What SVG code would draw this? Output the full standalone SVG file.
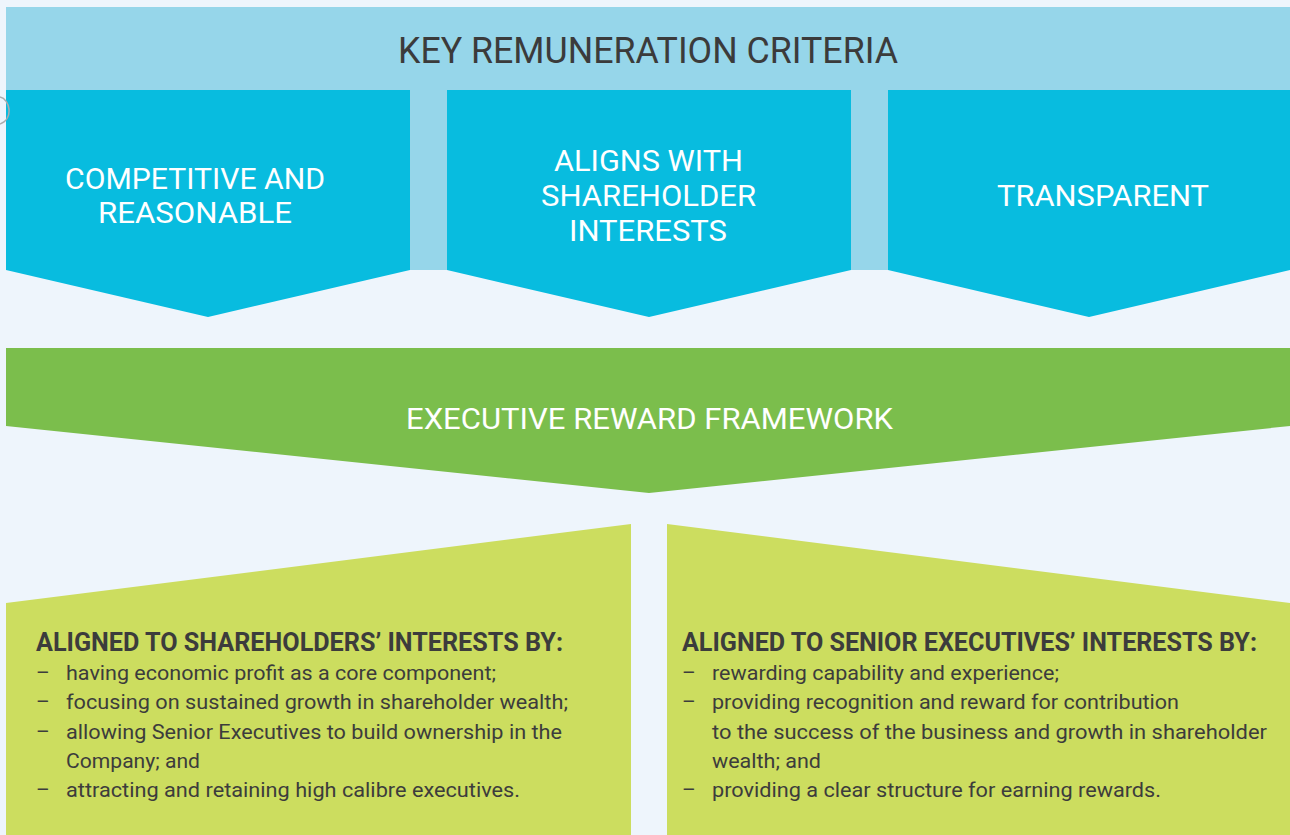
<svg xmlns="http://www.w3.org/2000/svg" width="1290" height="835" viewBox="0 0 1290 835">
  <style>
    .bg { fill: #EEF5FC; }
    .band { fill: #96D6EA; }
    .crit { fill: #08BCDF; }
    .frame { fill: #7BBE4C; }
    .panel { fill: #CCDD5F; }
    .title { font-family: Roboto, "Liberation Sans", sans-serif; font-size: 36px; fill: #3B3B3B; }
    .label { font-family: Roboto, "Liberation Sans", sans-serif; font-size: 30px; fill: #FFFFFF; }
    .head { font-family: Roboto, "Liberation Sans", sans-serif; font-size: 25px; font-weight: bold; fill: #3C3C3C; }
    .body { font-family: Roboto, "Liberation Sans", sans-serif; font-size: 21px; fill: #3C3C3C; }
  </style>

  <rect class="bg" x="0" y="0" width="1290" height="835"/>

  <!-- header band with the criteria title -->
  <g id="header">
    <rect class="band" x="6" y="7" width="1284" height="263"/>
    <text class="title" x="398" y="63" textLength="500" lengthAdjust="spacingAndGlyphs">KEY REMUNERATION CRITERIA</text>
  </g>

  <g id="criterion-competitive">
    <polygon class="crit" points="6,90 410,90 410,270 208,317 6,270"/>
    <text class="label" x="65" y="189" textLength="260" lengthAdjust="spacingAndGlyphs">COMPETITIVE AND</text>
    <text class="label" x="98" y="223" textLength="194" lengthAdjust="spacingAndGlyphs">REASONABLE</text>
  </g>

  <!-- small grey arc on the left edge -->
  <path d="M0,97 C10,99 14,119 0,124" fill="none" stroke="#A9ACAE" stroke-width="1.6"/>

  <g id="criterion-aligns">
    <polygon class="crit" points="447,90 851,90 851,270 649,317 447,270"/>
    <text class="label" x="554" y="171" textLength="189" lengthAdjust="spacingAndGlyphs">ALIGNS WITH</text>
    <text class="label" x="541" y="206" textLength="215" lengthAdjust="spacingAndGlyphs">SHAREHOLDER</text>
    <text class="label" x="569" y="241" textLength="158" lengthAdjust="spacingAndGlyphs">INTERESTS</text>
  </g>

  <g id="criterion-transparent">
    <polygon class="crit" points="888,90 1290,90 1290,270 1089,317 888,270"/>
    <text class="label" x="997" y="206" textLength="212" lengthAdjust="spacingAndGlyphs">TRANSPARENT</text>
  </g>

  <g id="framework">
    <polygon class="frame" points="6,348 1290,348 1290,426 649,493 6,426"/>
    <text class="label" x="406" y="429" font-size="31" textLength="487" lengthAdjust="spacingAndGlyphs">EXECUTIVE REWARD FRAMEWORK</text>
  </g>

  <g id="shareholders">
    <polygon class="panel" points="6,603 631,524 631,835 6,835"/>
    <text class="head" x="36" y="651" textLength="527" lengthAdjust="spacingAndGlyphs">ALIGNED TO SHAREHOLDERS’ INTERESTS BY:</text>
    <g class="body">
      <text x="36" y="680">–</text>
      <text x="66" y="680" textLength="430" lengthAdjust="spacingAndGlyphs">having economic profit as a core component;</text>
      <text x="36" y="709">–</text>
      <text x="66" y="709" textLength="502" lengthAdjust="spacingAndGlyphs">focusing on sustained growth in shareholder wealth;</text>
      <text x="36" y="739">–</text>
      <text x="66" y="739" textLength="496" lengthAdjust="spacingAndGlyphs">allowing Senior Executives to build ownership in the</text>
      <text x="66" y="768" textLength="134" lengthAdjust="spacingAndGlyphs">Company; and</text>
      <text x="36" y="797">–</text>
      <text x="66" y="797" textLength="454" lengthAdjust="spacingAndGlyphs">attracting and retaining high calibre executives.</text>
    </g>
  </g>

  <g id="executives">
    <polygon class="panel" points="667,524 1290,603 1290,835 667,835"/>
    <text class="head" x="682" y="651" textLength="575" lengthAdjust="spacingAndGlyphs">ALIGNED TO SENIOR EXECUTIVES’ INTERESTS BY:</text>
    <g class="body">
      <text x="682" y="680">–</text>
      <text x="712" y="680" textLength="347" lengthAdjust="spacingAndGlyphs">rewarding capability and experience;</text>
      <text x="682" y="709">–</text>
      <text x="712" y="709" textLength="467" lengthAdjust="spacingAndGlyphs">providing recognition and reward for contribution</text>
      <text x="712" y="739" textLength="555" lengthAdjust="spacingAndGlyphs">to the success of the business and growth in shareholder</text>
      <text x="712" y="768" textLength="109" lengthAdjust="spacingAndGlyphs">wealth; and</text>
      <text x="682" y="797">–</text>
      <text x="712" y="797" textLength="449" lengthAdjust="spacingAndGlyphs">providing a clear structure for earning rewards.</text>
    </g>
  </g>

  <g id="connectors"/>
</svg>
